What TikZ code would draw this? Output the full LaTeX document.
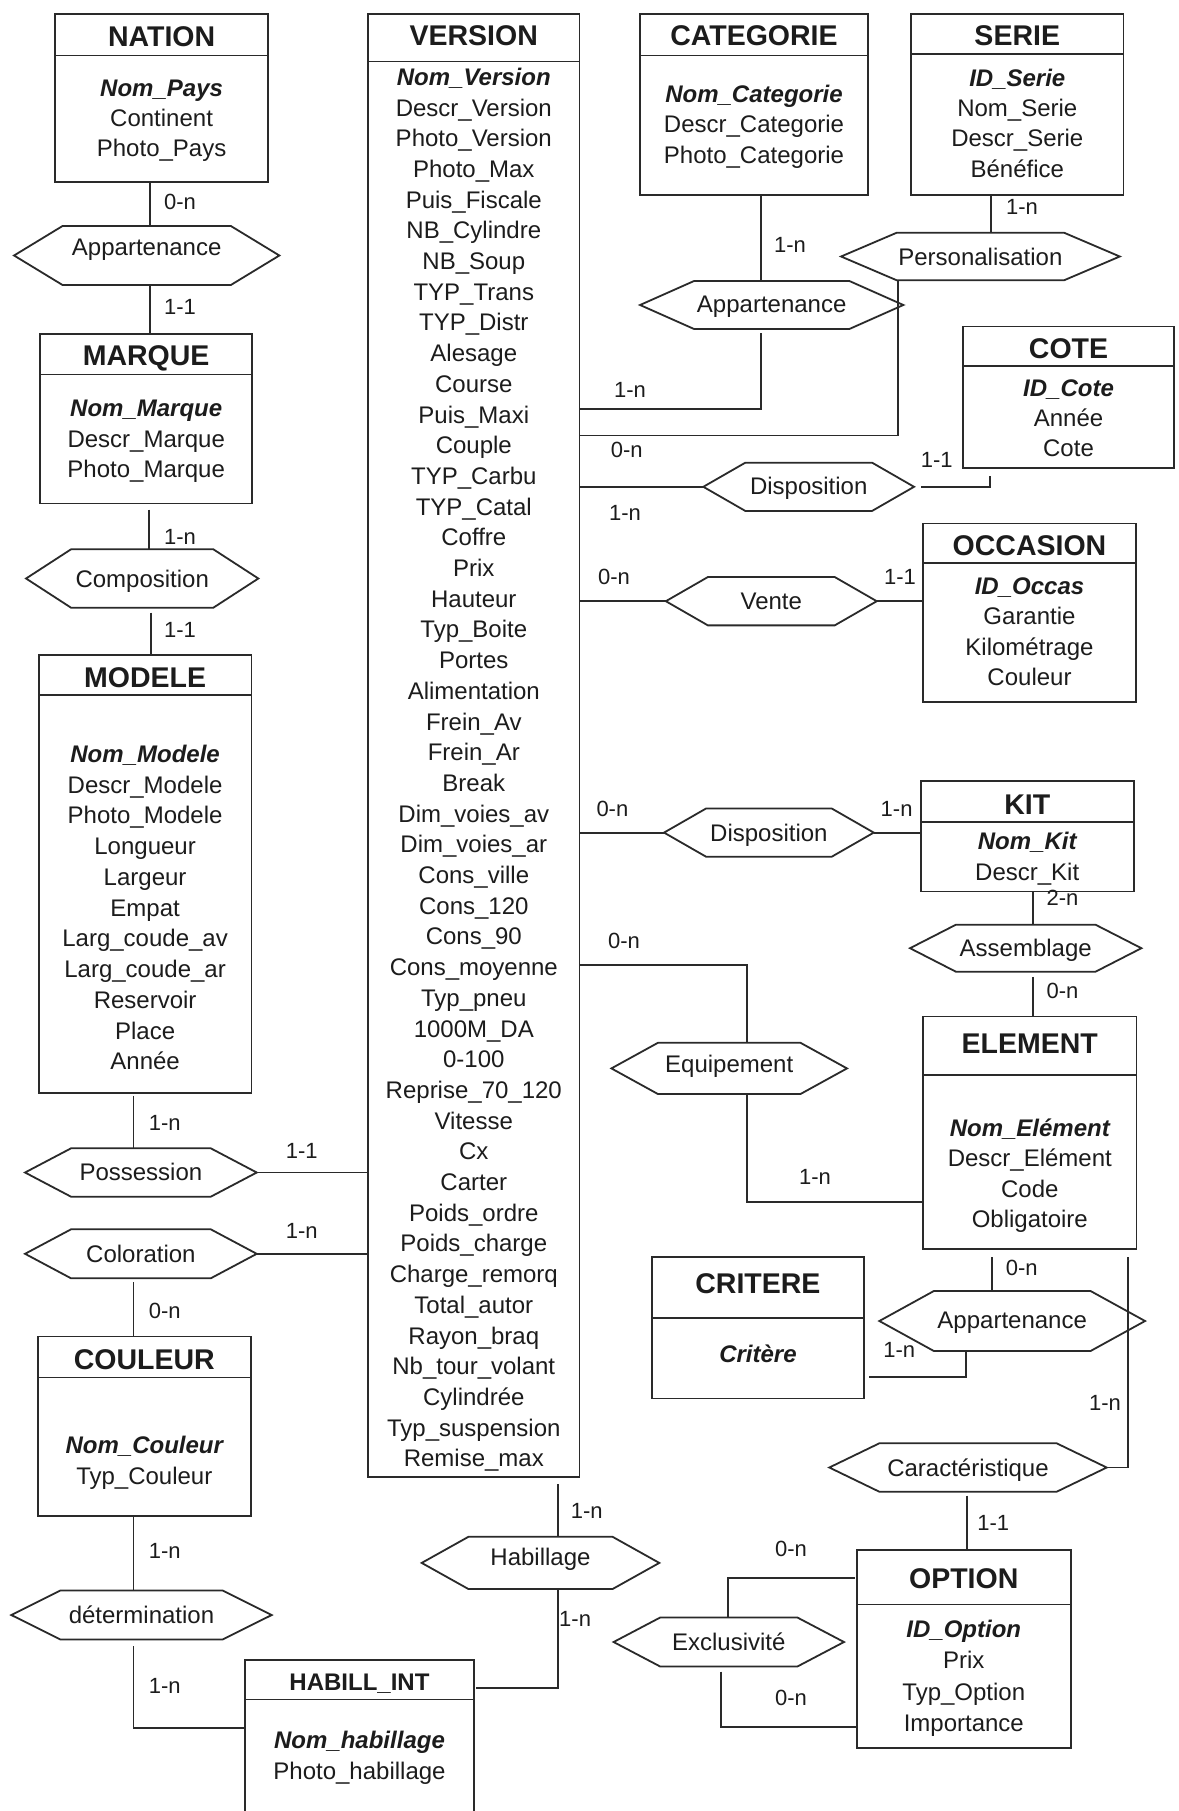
\documentclass[tikz,border=0pt]{standalone}
\usepackage{fontspec}
\setmainfont{Liberation Sans}
\definecolor{ink}{HTML}{2A2A2A}
\definecolor{txt}{HTML}{1C1C1C}
\tikzset{
  conn/.style={draw=ink, line width=1.8bp},
  ebox/.style={conn, rectangle, inner sep=0pt, outer sep=0pt},
  hexbox/.style={rectangle, draw=none, inner sep=0pt, outer sep=0pt},
  ttl/.style={font={\fontsize{28.5bp}{30bp}\selectfont\bfseries}, text=txt, anchor=base, yshift=-10bp, inner sep=0pt},
  attr/.style={font={\fontsize{24bp}{26bp}\selectfont}, text=txt, anchor=base, yshift=-8.5bp, inner sep=0pt},
  card/.style={font={\fontsize{22bp}{24bp}\selectfont}, text=txt, inner sep=0pt}
}
% identifier attribute
\newcommand\ident[1]{{\bfseries\itshape #1}}
% entity box: name, x1, y1, x2, y2, header line y, title y, title
\newcommand\entity[8]{%
  \pgfmathsetmacro\ew{#4-#2}\pgfmathsetmacro\eh{#5-#3}%
  \node[ebox, minimum width=\ew bp, minimum height=\eh bp, anchor=north west] (#1) at (#2,#3) {};
  \draw[conn] (#1.west |- 0,#6) -- (#1.east |- 0,#6);
  \node[ttl] (#1-t) at ({(#2+#4)/2},#7) {#8};}
% attribute list: name, centre x, first y, step, list
\newcommand\attrs[5]{%
  \foreach \aname [count=\i from 0] in {#5} {\node[attr] (#1-\i) at (#2,{#3+#4*\i}) {\aname};}}
% relation hexagon: name, cx, cy, width, height, inset, text, text offset
\newcommand\hexa[8]{%
  \node[hexbox, minimum width=#4bp, minimum height=#5bp] (#1) at (#2,#3) {};
  \draw[conn, line join=miter] (#1.west) -- ([xshift=#6bp]#1.north west) -- ([xshift=-#6bp]#1.north east)
     -- (#1.east) -- ([xshift=-#6bp]#1.south east) -- ([xshift=#6bp]#1.south west) -- cycle;
  \node[attr] (#1-t) at (#2,{#3+(#8)}) {#7};}
\begin{document}
\begin{tikzpicture}[x=1bp,y=-1bp]
\useasboundingbox (0,0) rectangle (1178,1811);
\fill[white] (0,0) rectangle (1178,1811);
\clip (0,0) rectangle (1178,1811);

% ---------- entities ----------
\entity{nation}{55.3}{14.3}{268}{182}{55.4}{36}{NATION}
\attrs{nation}{161.6}{87.5}{30.4}{\ident{Nom\_Pays},Continent,Photo\_Pays}
\entity{marque}{40}{334}{252.3}{503.5}{374.5}{355.5}{MARQUE}
\attrs{marque}{146.2}{407.7}{30.8}{\ident{Nom\_Marque},Descr\_Marque,Photo\_Marque}
\entity{modele}{38.8}{655}{251.4}{1092.8}{694.6}{677.5}{MODELE}
\attrs{modele}{145.1}{754}{30.74}{\ident{Nom\_Modele},Descr\_Modele,Photo\_Modele,Longueur,Largeur,Empat,Larg\_coude\_av,Larg\_coude\_ar,Reservoir,Place,Année}
\entity{couleur}{37.6}{1336.4}{251}{1516}{1377.4}{1359.7}{COULEUR}
\attrs{couleur}{144.3}{1444.6}{31.7}{\ident{Nom\_Couleur},Typ\_Couleur}
\entity{habill}{244.6}{1660}{474.3}{1835}{1699.5}{1680}{{\fontsize{24bp}{26bp}\selectfont HABILL\_INT}}
\attrs{habill}{359.5}{1739.7}{31.3}{\ident{Nom\_habillage},Photo\_habillage}
\entity{version}{368}{14.3}{579.5}{1477}{61.4}{35.7}{VERSION}
\attrs{version}{473.8}{76.8}{30.7}{\ident{Nom\_Version},Descr\_Version,Photo\_Version,Photo\_Max,Puis\_Fiscale,NB\_Cylindre,NB\_Soup,TYP\_Trans,TYP\_Distr,Alesage,Course,Puis\_Maxi,Couple,TYP\_Carbu,TYP\_Catal,Coffre,Prix,Hauteur,Typ\_Boite,Portes,Alimentation,Frein\_Av,Frein\_Ar,Break,Dim\_voies\_av,Dim\_voies\_ar,Cons\_ville,Cons\_120,Cons\_90,Cons\_moyenne,Typ\_pneu,1000M\_DA,0-100,Reprise\_70\_120,Vitesse,Cx,Carter,Poids\_ordre,Poids\_charge,Charge\_remorq,Total\_autor,Rayon\_braq,Nb\_tour\_volant,Cylindrée,Typ\_suspension,Remise\_max}
\entity{categorie}{640}{14.3}{868}{194.6}{55.4}{35.7}{CATEGORIE}
\attrs{categorie}{754}{93.6}{30.5}{\ident{Nom\_Categorie},Descr\_Categorie,Photo\_Categorie}
\entity{serie}{911}{14.3}{1123.5}{194.6}{54.3}{35.7}{SERIE}
\attrs{serie}{1017.3}{77.8}{30.3}{\ident{ID\_Serie},Nom\_Serie,Descr\_Serie,Bénéfice}
\entity{cote}{963}{326.5}{1174}{468}{366}{348}{COTE}
\attrs{cote}{1068.5}{387.5}{30.3}{\ident{ID\_Cote},Année,Cote}
\entity{occasion}{923}{523.5}{1136}{702}{563}{545.7}{OCCASION}
\attrs{occasion}{1029.5}{586}{30.4}{\ident{ID\_Occas},Garantie,Kilométrage,Couleur}
\entity{kit}{920.6}{780.7}{1133.8}{891.4}{821.8}{804}{KIT}
\attrs{kit}{1027.2}{841.4}{30.3}{\ident{Nom\_Kit},Descr\_Kit}
\entity{element}{923}{1016.5}{1136.5}{1249}{1074.6}{1043}{ELEMENT}
\attrs{element}{1029.8}{1127.5}{30.6}{\ident{Nom\_Elément},Descr\_Elément,Code,Obligatoire}
\entity{critere}{651.7}{1257.3}{864.2}{1398.4}{1317.6}{1283.7}{CRITERE}
\attrs{critere}{758}{1354}{30}{\ident{Critère}}
\entity{option}{856.6}{1550}{1070.9}{1748}{1604.5}{1578}{OPTION}
\attrs{option}{963.8}{1629}{31.3}{\ident{ID\_Option},Prix,Typ\_Option,Importance}

% ---------- relations ----------
\hexa{app1}{146.7}{255.5}{265.3}{59}{48.5}{Appartenance}{-9}
\hexa{comp}{142.2}{578.5}{232.3}{58.4}{45}{Composition}{0}
\hexa{poss}{140.9}{1172.5}{231.7}{48.4}{46}{Possession}{-1}
\hexa{colo}{140.9}{1253.8}{231.7}{49}{46}{Coloration}{0}
\hexa{deter}{141.5}{1615}{260.4}{48.9}{49}{détermination}{0}
\hexa{app2}{771.7}{305}{263.3}{48}{54}{Appartenance}{-1}
\hexa{pers}{980.4}{256.5}{278.7}{47.5}{55.6}{Personalisation}{0}
\hexa{disp1}{808.7}{486.8}{210.7}{48.3}{42}{Disposition}{-1}
\hexa{vente}{771.3}{601.2}{210.9}{48.3}{42}{Vente}{0}
\hexa{disp2}{768.9}{832.6}{209.7}{48.2}{42}{Disposition}{0}
\hexa{assem}{1025.7}{948.2}{231.4}{47.1}{46}{Assemblage}{0}
\hexa{equip}{729.2}{1068.4}{235.6}{51.2}{46.5}{Equipement}{-4}
\hexa{app3}{1012.2}{1321}{265.7}{60}{54.5}{Appartenance}{-1}
\hexa{carac}{968}{1467.5}{277.4}{48.4}{50}{Caractéristique}{0}
\hexa{habil}{540.5}{1562.9}{237.6}{52.3}{46.8}{Habillage}{-6}
\hexa{excl}{728.8}{1642}{230.4}{49}{46.6}{Exclusivité}{0}

% ---------- vertical routing lines ----------
\coordinate (xa) at (150,0);
\coordinate (xb) at (149,0);
\coordinate (xc) at (151,0);
\coordinate (xd) at (133.5,0);
\coordinate (xe) at (558,0);
\coordinate (xf) at (761,0);
\coordinate (xg) at (991,0);
\coordinate (xh) at (898.3,0);
\coordinate (xi) at (990,0);
\coordinate (xj) at (1033,0);
\coordinate (xk) at (747,0);
\coordinate (xl) at (991.7,0);
\coordinate (xm) at (965.7,0);
\coordinate (xn) at (1128.3,0);
\coordinate (xo) at (966.7,0);
\coordinate (xp) at (728,0);
\coordinate (xq) at (721,0);

% ---------- connectors ----------
\draw[conn] (xa |- nation.south) -- (xa |- app1.north);
\draw[conn] (xa |- app1.south) -- (xa |- marque.north);
\draw[conn, shorten <=6bp] (xb |- marque.south) -- (xb |- comp.north);
\draw[conn, shorten <=5bp] (xc |- comp.south) -- (xc |- modele.north);
\draw[conn, shorten <=3bp] (xd |- modele.south) -- (xd |- poss.north);
\draw[conn] (poss.east) -- (poss.east -| version.west);
\draw[conn] (colo.east) -- (colo.east -| version.west);
\draw[conn, shorten <=4bp] (xd |- colo.south) -- (xd |- couleur.north);
\draw[conn] (xd |- couleur.south) -- (xd |- deter.north);
\draw[conn, shorten <=7bp] (xd |- deter.south) -- (xd |- 0,1728) -- (habill.west |- 0,1728);
\draw[conn, shorten <=7bp] (xe |- version.south) -- (xe |- habil.north);
\draw[conn, shorten >=2bp] (xe |- habil.south) -- (xe |- 0,1688) -- (habill.east |- 0,1688);
\draw[conn] (xf |- categorie.south) -- (xf |- app2.north);
\draw[conn, shorten <=4bp] (xf |- app2.south) -- (xf |- 0,409) -- (version.east |- 0,409);
\draw[conn] (xg |- serie.south) -- (xg |- pers.north);
\draw[conn] (xh |- pers.south) -- (xh |- 0,435.5) -- (version.east |- 0,435.5);
\draw[conn] (version.east |- disp1.west) -- (disp1.west);
\draw[conn, shorten <=7bp, shorten >=8bp] (disp1.east) -- (xi |- disp1.east) -- (xi |- cote.south);
\draw[conn] (version.east |- vente.west) -- (vente.west);
\draw[conn] (vente.east) -- (vente.east -| occasion.west);
\draw[conn] (version.east |- disp2.west) -- (disp2.west);
\draw[conn] (disp2.east) -- (disp2.east -| kit.west);
\draw[conn] (xj |- kit.south) -- (xj |- assem.north);
\draw[conn, shorten <=5bp] (xj |- assem.south) -- (xj |- element.north);
\draw[conn] (version.east |- 0,964.6) -- (xk |- 0,964.6) -- (xk |- equip.north);
\draw[conn] (xk |- equip.south) -- (xk |- 0,1202) -- (element.west |- 0,1202);
\draw[conn, shorten <=8bp] (xl |- element.south) -- (xl |- app3.north);
\draw[conn, shorten >=5bp] (xm |- app3.south) -- (xm |- 0,1377) -- (critere.east |- 0,1377);
\draw[conn, shorten <=8bp] (xn |- element.south) -- (xn |- carac.east) -- (carac.east);
\draw[conn, shorten <=4bp] (xo |- carac.south) -- (xo |- option.north);
\draw[conn, shorten <=2bp] (option.west |- 0,1578) -- (xp |- 0,1578) -- (xp |- excl.north);
\draw[conn, shorten <=5bp] (xq |- excl.south) -- (xq |- 0,1727) -- (option.west |- 0,1727);

% ---------- cardinalities ----------
\node[card] (k1) at (180,202) {0-n};
\node[card] (k2) at (180,307) {1-1};
\node[card] (k3) at (180,537) {1-n};
\node[card] (k4) at (180,630) {1-1};
\node[card] (k5) at (164.8,1123) {1-n};
\node[card] (k6) at (301.7,1150.7) {1-1};
\node[card] (k7) at (301.7,1231) {1-n};
\node[card] (k8) at (164.8,1311) {0-n};
\node[card] (k9) at (164.8,1551) {1-n};
\node[card] (k10) at (164.8,1686) {1-n};
\node[card] (k11) at (586.7,1510.7) {1-n};
\node[card, anchor=west] (k12) at (559,1619) {1-n};
\node[card] (k13) at (790,245) {1-n};
\node[card] (k14) at (630,390) {1-n};
\node[card] (k15) at (1022,207) {1-n};
\node[card] (k16) at (626.7,450) {0-n};
\node[card] (k17) at (625,513.3) {1-n};
\node[card] (k18) at (936.7,460) {1-1};
\node[card] (k19) at (614,577) {0-n};
\node[card] (k20) at (900,577) {1-1};
\node[card] (k21) at (612.4,808.5) {0-n};
\node[card] (k22) at (896.6,808.5) {1-n};
\node[card] (k23) at (1062.5,897.8) {2-n};
\node[card] (k24) at (1062.5,991) {0-n};
\node[card] (k25) at (624,940.7) {0-n};
\node[card] (k26) at (815,1177) {1-n};
\node[card] (k27) at (1021.7,1268.3) {0-n};
\node[card] (k28) at (899.3,1350) {1-n};
\node[card] (k29) at (1105,1403.3) {1-n};
\node[card] (k30) at (993.3,1522.7) {1-1};
\node[card] (k31) at (791,1548.5) {0-n};
\node[card] (k32) at (791,1697.7) {0-n};
\end{tikzpicture}
\end{document}
